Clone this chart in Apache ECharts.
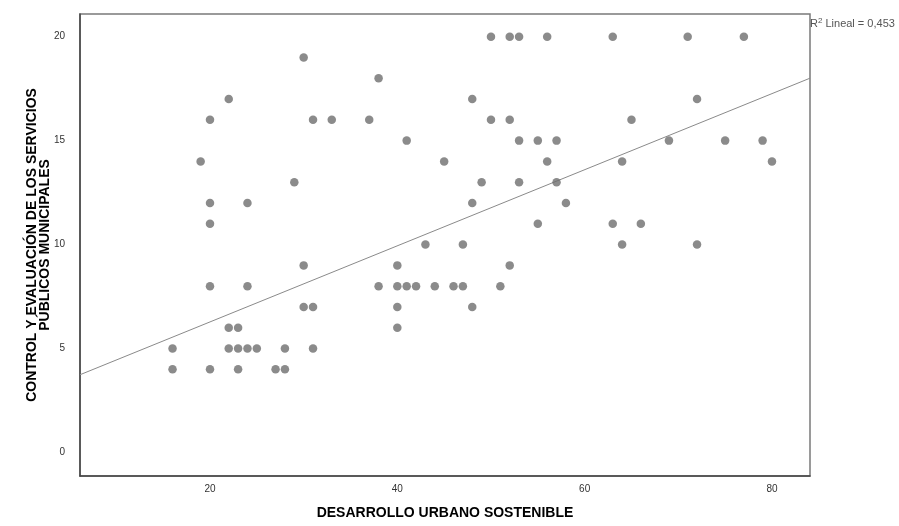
<!DOCTYPE html>
<html>
<head>
<meta charset="utf-8">
<script src="https://cdn.jsdelivr.net/npm/echarts@6/dist/echarts.min.js"></script>
<style>html,body{margin:0;padding:0;background:#fff}#c{width:899px;height:526px}</style>
</head>
<body>
<div id="c"></div>
<script>
// Data
const desarrollo = [30,38,22,20,31,33,37,19,29,20,24,20,
  50,52,53,56,63,48,50,52,65,41,53,55,57,45,56,64,49,53,57,48,58,55,63,66,43,47,64,
  71,77,72,69,75,79,80,72,
  30,40,20,24,38,40,30,31,40,22,23,40,16,22,23,24,25,28,31,16,20,23,27,28,
  52,41,42,44,46,47,51,48];
const control = [19,18,17,16,16,16,16,14,13,12,12,11,
  20,20,20,20,20,17,16,16,16,15,15,15,15,14,14,14,13,13,13,12,12,11,11,11,10,10,10,
  20,20,17,15,15,15,14,10,
  9,9,8,8,8,8,7,7,7,6,6,6,5,5,5,5,5,5,5,4,4,4,4,4,
  9,8,8,8,8,8,8,7];
const xTicks = [20,40,60,80];
const yTicks = [0,5,10,15,20];
const xRange = [6.12, 84.06];
const yRange = [-1.13, 21.09];
const fitIntercept = 2.62;
const fitSlope = 0.183;
const xTitle = 'DESARROLLO URBANO SOSTENIBLE';
const yTitle = 'CONTROL Y EVALUACIÓN DE LOS SERVICIOS\nPÚBLICOS MUNICIPALES';

const points = desarrollo.map((x, i) => [x, control[i]]);
const fitLine = xRange.map(x => [x, fitIntercept + fitSlope * x]);

const font = '"Liberation Sans", Arial, sans-serif';
const chart = echarts.init(document.getElementById('c'), null, {renderer: 'canvas'});
chart.setOption({
  animation: false,
  backgroundColor: '#fff',
  grid: {left: 80, top: 14, right: 89, bottom: 50, show: true, borderColor: '#7a7a7a', borderWidth: 1.5, containLabel: false},
  xAxis: {
    type: 'value', min: xRange[0], max: xRange[1],
    name: xTitle, nameLocation: 'middle', nameGap: 30, nameMoveOverlap: false,
    nameTextStyle: {fontFamily: font, fontWeight: 'bold', fontSize: 14, color: '#000'},
    axisLine: {show: true, onZero: false, lineStyle: {color: '#444', width: 1.5}},
    axisTick: {show: false},
    splitLine: {show: false},
    axisLabel: {customValues: xTicks, fontFamily: font, fontSize: 10, color: '#333', margin: 8}
  },
  yAxis: {
    type: 'value', min: yRange[0], max: yRange[1],
    name: yTitle, nameLocation: 'middle', nameGap: 28, nameRotate: 90, nameMoveOverlap: false,
    nameTextStyle: {fontFamily: font, fontWeight: 'bold', fontSize: 14, color: '#000', lineHeight: 13, align: 'center'},
    axisLine: {show: true, onZero: false, lineStyle: {color: '#444', width: 1.5}},
    axisTick: {show: false},
    splitLine: {show: false},
    axisLabel: {customValues: yTicks, fontFamily: font, fontSize: 10, color: '#333', margin: 15}
  },
  series: [
    {
      type: 'line', data: fitLine, symbol: 'none', silent: true,
      lineStyle: {color: '#8a8a8a', width: 1}, z: 1
    },
    {
      type: 'scatter', data: points, symbol: 'circle', symbolSize: 8.5,
      itemStyle: {color: '#6e6e6e'}, z: 2
    }
  ],
  graphic: [{
    type: 'text', left: 810, top: 17,
    style: {
      text: 'R{sup|2} Lineal = 0,453',
      fontFamily: font, fontSize: 11, fill: '#555',
      rich: {sup: {fontSize: 8, verticalAlign: 'top', fill: '#555', fontFamily: font, padding: [0, 0, 5, 0]}}
    }
  }]
});
</script>
</body>
</html>
